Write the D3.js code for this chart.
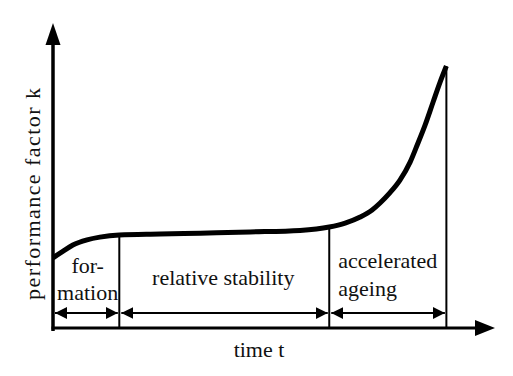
<!DOCTYPE html>
<html><head><meta charset="utf-8">
<script src="https://cdn.jsdelivr.net/npm/d3@7"></script>
<style>html,body{margin:0;padding:0;background:#fff;}svg{display:block;}</style>
</head><body>
<svg id="c" width="513" height="376"></svg>
<script>
// time (0..100) and performance factor k (0..100)
const curveTime = [0, 2.3, 4.5, 7.7, 10.6, 15, 24.2, 33.3, 44.6, 55.9, 62.5, 66.1, 69.5, 72.2, 74.0, 76.2, 78.5, 80.8, 82.4, 84.2, 86.0, 87.6, 89];
const curveK    = [23, 25.2, 27.2, 28.9, 29.8, 30.5, 30.8, 31.1, 31.5, 32.0, 33.1, 34.4, 36.4, 38.7, 41.0, 44.3, 48.5, 54.4, 60.0, 66.6, 74.1, 80.7, 85.9];
const phaseBounds = [0, 15, 62.5, 89];
const phaseLines = [["for-", "mation"], ["relative stability"], ["accelerated", "ageing"]];
const xLabel = "time t";
const yLabel = "performance factor k";

const FONT = "Liberation Serif";
const svg = d3.select("#c");
const x = d3.scaleLinear().domain([0, 100]).range([53, 495]);
const y = d3.scaleLinear().domain([0, 100]).range([328, 23]);

const defs = svg.append("defs");
defs.append("marker").attr("id", "ah").attr("viewBox", "0 0 12 12").attr("refX", 12).attr("refY", 6)
  .attr("markerWidth", 12).attr("markerHeight", 12).attr("markerUnits", "userSpaceOnUse")
  .attr("orient", "auto-start-reverse")
  .append("path").attr("d", "M0,0L12,6L0,12Z").attr("fill", "#000");

const kAt = t => { const i = curveTime.indexOf(t); return curveK[i]; };

// phase boundary lines
phaseBounds.slice(1).forEach(t => {
  svg.append("line").attr("x1", x(t)).attr("x2", x(t)).attr("y1", y(kAt(t))).attr("y2", y(0))
    .attr("stroke", "#000").attr("stroke-width", 2);
});

// double arrows
const arrowY = 313;
for (let i = 0; i < 3; i++) {
  const a = x(phaseBounds[i]) + 2, b = x(phaseBounds[i + 1]) - 1.5;
  svg.append("line").attr("x1", a).attr("x2", b).attr("y1", arrowY).attr("y2", arrowY)
    .attr("stroke", "#000").attr("stroke-width", 2)
    .attr("marker-start", "url(#ah)").attr("marker-end", "url(#ah)");
}

// axes
const x0 = x.range()[0], xEnd = x.range()[1], yBase = y.range()[0], yTop = y.range()[1];
svg.append("line").attr("x1", x0 - 1.5).attr("x2", xEnd - 18).attr("y1", yBase).attr("y2", yBase)
  .attr("stroke", "#000").attr("stroke-width", 3);
svg.append("path").attr("d", `M${xEnd},${yBase}L${xEnd - 20},${yBase - 8}L${xEnd - 20},${yBase + 8}Z`).attr("fill", "#000");
svg.append("line").attr("x1", x0).attr("x2", x0).attr("y1", yBase + 3).attr("y2", yTop + 20)
  .attr("stroke", "#000").attr("stroke-width", 3.5);
svg.append("path").attr("d", `M${x0},${yTop}L${x0 - 7.5},${yTop + 22}L${x0 + 7.5},${yTop + 22}Z`).attr("fill", "#000");

// curve
const pts = curveTime.map((t, i) => [t, curveK[i]]);
svg.append("path").datum(pts)
  .attr("d", d3.line().x(d => x(d[0])).y(d => y(d[1])).curve(d3.curveMonotoneX))
  .attr("fill", "none").attr("stroke", "#000").attr("stroke-width", 5);

// phase labels
const fs = 22;
const T = sel => sel.attr("font-family", FONT).attr("font-size", fs).attr("fill", "#111");
T(svg.append("text").attr("text-anchor", "middle"))
  .selectAll("tspan").data(phaseLines[0]).join("tspan")
  .attr("x", x((phaseBounds[0] + phaseBounds[1]) / 2) + 1.5).attr("y", (d, i) => 273 + i * 27).text(d => d);
T(svg.append("text").attr("x", x((phaseBounds[1] + phaseBounds[2]) / 2) - 1).attr("y", 285)
  .attr("text-anchor", "middle")).text(phaseLines[1][0]);
T(svg.append("text"))
  .selectAll("tspan").data(phaseLines[2]).join("tspan")
  .attr("x", x(phaseBounds[2]) + 9).attr("y", (d, i) => 268 + i * 28).text(d => d);

// axis labels
T(svg.append("text").attr("x", 259).attr("y", 357).attr("text-anchor", "middle")).text(xLabel);
T(svg.append("text").attr("transform", "translate(40,194) rotate(-90)")
  .attr("text-anchor", "middle").attr("textLength", 212).attr("lengthAdjust", "spacing")).text(yLabel);

// force text layout
svg.selectAll("text").each(function () { this.getComputedTextLength(); this.getBBox(); });
</script>
</body></html>
